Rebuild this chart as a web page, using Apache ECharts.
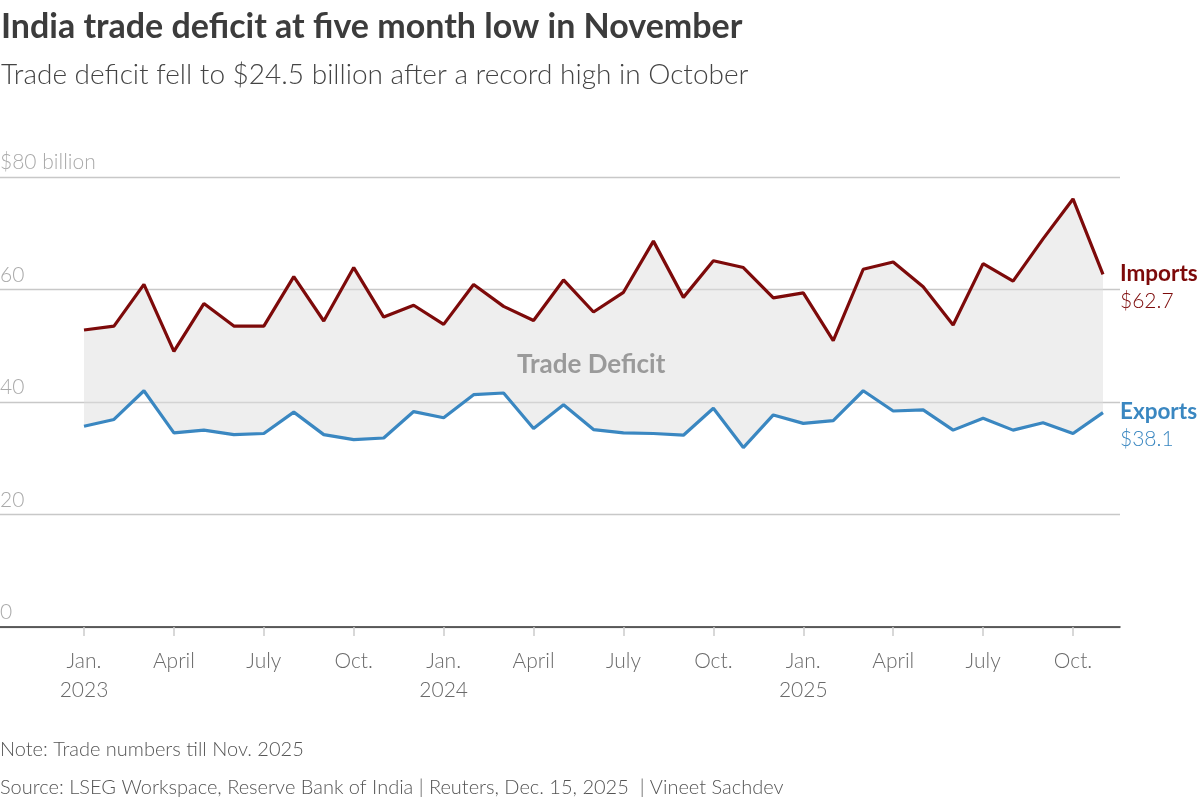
<!DOCTYPE html>
<html>
<head>
<meta charset="utf-8">
<script src="https://cdn.jsdelivr.net/npm/echarts@6/dist/echarts.min.js"></script>
<style>
  html, body { margin: 0; padding: 0; background: #fff; }
  #chart { width: 1200px; height: 798px; }
</style>
</head>
<body>
<div id="chart"></div>
<script>
// Monthly values, Jan. 2023 - Nov. 2025 (US$ billion)
const months = [
  "Jan 2023","Feb 2023","Mar 2023","Apr 2023","May 2023","Jun 2023","Jul 2023","Aug 2023","Sep 2023","Oct 2023","Nov 2023","Dec 2023",
  "Jan 2024","Feb 2024","Mar 2024","Apr 2024","May 2024","Jun 2024","Jul 2024","Aug 2024","Sep 2024","Oct 2024","Nov 2024","Dec 2024",
  "Jan 2025","Feb 2025","Mar 2025","Apr 2025","May 2025","Jun 2025","Jul 2025","Aug 2025","Sep 2025","Oct 2025","Nov 2025"
];
const imports = [
  52.8, 53.5, 60.9, 49.0, 57.5, 53.5, 53.5, 62.3, 54.4, 63.9, 55.1, 57.2,
  53.8, 60.9, 57.0, 54.5, 61.7, 56.0, 59.5, 68.6, 58.6, 65.1, 63.9, 58.5,
  59.4, 50.9, 63.6, 64.9, 60.5, 53.7, 64.6, 61.5, 69.0, 76.1, 62.7
];
const exports_ = [
  35.7, 36.9, 42.0, 34.5, 35.0, 34.2, 34.4, 38.2, 34.2, 33.3, 33.6, 38.3,
  37.2, 41.3, 41.6, 35.3, 39.5, 35.1, 34.5, 34.4, 34.1, 38.9, 31.9, 37.7,
  36.2, 36.7, 42.0, 38.4, 38.6, 35.0, 37.1, 35.0, 36.3, 34.4, 38.1
];
const tickIndex = [0, 3, 6, 9, 12, 15, 18, 21, 24, 27, 30, 33];
const tickLabels = ["Jan.\n2023","April","July","Oct.","Jan.\n2024","April","July","Oct.","Jan.\n2025","April","July","Oct."];

const FONT = "Lato";
const IMP_COLOR = "#7d0a0a";
const EXP_COLOR = "#3a87c1";

const impPts = imports.map((v, i) => [i, v]);
const expPts = exports_.map((v, i) => [i, v]);

const chart = echarts.init(document.getElementById('chart'), null, { renderer: 'canvas' });

chart.setOption({
  backgroundColor: '#fff',
  animation: false,
  textStyle: { fontFamily: FONT },
  title: [
    { text: 'India trade deficit at five month low in November', left: 1, top: 10, padding: 0,
      textStyle: { fontFamily: FONT, fontSize: 34, fontWeight: 'bold', color: '#3c3c3c' } },
    { text: 'Trade deficit fell to $24.5 billion after a record high in October', left: 1, top: 61, padding: 0,
      textStyle: { fontFamily: FONT, fontSize: 28, fontWeight: 300, color: '#444' } },
    { text: 'Note: Trade numbers till Nov. 2025', left: 0, top: 740, padding: 0,
      textStyle: { fontFamily: FONT, fontSize: 20, fontWeight: 300, color: '#555' } },
    { text: 'Source: LSEG Workspace, Reserve Bank of India | Reuters, Dec. 15, 2025  | Vineet Sachdev', left: 0, top: 778, padding: 0,
      textStyle: { fontFamily: FONT, fontSize: 20, fontWeight: 300, color: '#555' } }
  ],
  graphic: [
    { type: 'text', left: 517, top: 352, z: 10,
      style: { text: 'Trade Deficit', font: 'bold 26px ' + FONT, fill: '#9a9a9a' } }
  ],
  grid: { left: 0, right: 80, top: 177, bottom: 171, containLabel: false, outerBoundsMode: 'none' },
  xAxis: {
    type: 'value',
    min: -84 / 29.97,
    max: (1120 - 84) / 29.97,
    splitLine: { show: false },
    axisLine: { show: true, onZero: false, lineStyle: { color: '#333', width: 1.5 } },
    axisTick: { show: true, customValues: tickIndex, length: 9, lineStyle: { color: '#ccc', width: 1.5 } },
    axisLabel: {
      show: true, customValues: tickIndex, margin: 20,
      fontFamily: FONT, fontSize: 21, fontWeight: 300, color: '#6a6a6a', lineHeight: 29,
      formatter: (v) => { const k = tickIndex.indexOf(Math.round(v)); return k >= 0 ? tickLabels[k] : ''; }
    }
  },
  yAxis: {
    type: 'value', min: 0, max: 80, interval: 20,
    axisLine: { show: false },
    axisTick: { show: false },
    splitLine: { show: true, lineStyle: { color: '#c8c8c8', width: 1.3 } },
    axisLabel: {
      inside: true, margin: 0, verticalAlign: 'bottom', padding: [0, 0, 4, 0],
      fontFamily: FONT, fontSize: 21, fontWeight: 300, color: '#aaa',
      formatter: (v) => v === 80 ? '$80 billion' : String(v)
    }
  },
  series: [
    { name: 'Trade Deficit', type: 'custom', silent: true, z: 1,
      data: [0],
      renderItem: (params, api) => {
        const top = imports.map((v, i) => api.coord([i, v]));
        const bot = exports_.map((v, i) => api.coord([i, v])).reverse();
        return { type: 'polygon', shape: { points: top.concat(bot) },
                 style: { fill: 'rgba(222,222,222,0.5)' } };
      } },
    { name: 'Imports', type: 'line', data: impPts, showSymbol: false, symbol: 'none',
      lineStyle: { color: IMP_COLOR, width: 3.2 }, z: 3,
      endLabel: {
        show: true, distance: 17, offset: [0, 13], align: 'left',
        formatter: (p) => '{a|Imports}\n{b|$' + p.value[1].toFixed(1) + '}',
        rich: {
          a: { fontFamily: FONT, fontSize: 22.5, fontWeight: 'bold', color: IMP_COLOR, lineHeight: 27 },
          b: { fontFamily: FONT, fontSize: 21, fontWeight: 300, color: IMP_COLOR, lineHeight: 27 }
        }
      } },
    { name: 'Exports', type: 'line', data: expPts, showSymbol: false, symbol: 'none',
      lineStyle: { color: EXP_COLOR, width: 3.2 }, z: 3,
      endLabel: {
        show: true, distance: 17, offset: [0, 13], align: 'left',
        formatter: (p) => '{a|Exports}\n{b|$' + p.value[1].toFixed(1) + '}',
        rich: {
          a: { fontFamily: FONT, fontSize: 22.5, fontWeight: 'bold', color: EXP_COLOR, lineHeight: 27 },
          b: { fontFamily: FONT, fontSize: 21, fontWeight: 300, color: EXP_COLOR, lineHeight: 27 }
        }
      } }
  ]
});
</script>
</body>
</html>
